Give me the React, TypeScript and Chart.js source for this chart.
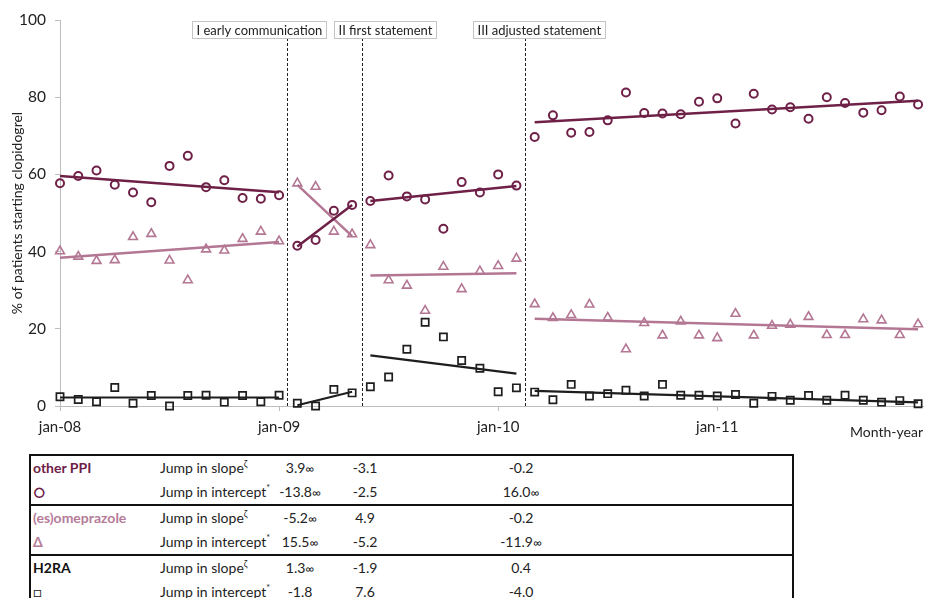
import React, { useEffect, useRef } from "react";
import { Chart, registerables } from "chart.js";

Chart.register(...registerables);

const FONT = "Lato, 'Open Sans', 'DejaVu Sans', sans-serif";

// ---- DATA ----
// month index 0 = jan-08 ... 47 = dec-11
const months = Array.from({ length: 48 }, (_, i) => i);

const xTickMonths = [0, 12, 24, 36];
const xTickLabels = ["jan-08", "jan-09", "jan-10", "jan-11"];

const otherPPI = [
  57.7, 59.6, 61.0, 57.3, 55.3, 52.8, 62.2, 64.8, 56.7, 58.5, 53.9, 53.7, 54.6,
  41.5, 43.0, 50.6, 52.1,
  53.1, 59.7, 54.3, 53.5, 45.9, 58.0, 55.3, 60.0, 57.1,
  69.7, 75.3, 70.8, 71.0, 74.0, 81.2, 75.9, 75.8, 75.6, 78.8, 79.7, 73.2, 80.9, 76.8, 77.4, 74.4, 80.0, 78.5, 76.0, 76.6, 80.2, 78.1,
];

const esomeprazole = [
  40.1, 38.7, 37.6, 37.8, 43.8, 44.6, 37.7, 32.6, 40.6, 40.3, 43.3, 45.2, 42.7,
  57.7, 56.8, 45.2, 44.5,
  41.7, 32.6, 31.2, 24.7, 36.1, 30.3, 34.9, 36.3, 38.2,
  26.4, 22.8, 23.6, 26.3, 22.9, 14.7, 21.5, 18.3, 21.9, 18.3, 17.6, 23.9, 18.3, 20.8, 21.1, 23.1, 18.4, 18.4, 22.5, 22.2, 18.4, 21.2,
];

const h2ra = [
  2.4, 1.7, 1.1, 4.8, 0.7, 2.7, 0.0, 2.7, 2.8, 1.0, 2.7, 1.1, 2.8,
  0.7, 0.0, 4.3, 3.4,
  5.0, 7.5, 14.7, 21.7, 17.9, 11.8, 9.8, 3.7, 4.7,
  3.6, 1.6, 5.6, 2.6, 3.2, 4.1, 2.6, 5.6, 2.8, 2.8, 2.6, 3.0, 0.7, 2.5, 1.5, 2.7, 1.5, 2.8, 1.5, 1.0, 1.4, 0.6,
];

// segmented regression lines (start / end month of each segment)
const segmentStart = [0, 13, 17, 26];
const segmentEnd = [12, 16, 25, 47];
const otherPPITrendStart = [59.6, 41.3, 53.1, 73.5];
const otherPPITrendEnd = [55.4, 52.1, 57.0, 79.1];
const esoTrendStart = [38.4, 57.3, 33.8, 22.6];
const esoTrendEnd = [42.5, 44.0, 34.4, 19.9];
const h2raTrendStart = [2.2, 0.2, 13.1, 3.9];
const h2raTrendEnd = [2.2, 3.7, 8.4, 0.95];

// interventions
const interventionMonths = [12.45, 16.55, 25.45];
const interventionLabels = ["I early communication", "II first statement", "III adjusted statement"];

// table
const groupNames = ["other PPI", "(es)omeprazole", "H2RA"];
const groupSymbols = ["○", "Δ", "□"];
const slopeJumpI = [3.9, -5.2, 1.3];
const slopeJumpII = [-3.1, 4.9, -1.9];
const slopeJumpIII = [-0.2, -0.2, 0.4];
const interceptJumpI = [-13.8, 15.5, -1.8];
const interceptJumpII = [-2.5, -5.2, 7.6];
const interceptJumpIII = [16.0, -11.9, -4.0];
const slopeSignificant = [
  [true, false, false],
  [true, false, false],
  [true, false, false],
];
const interceptSignificant = [
  [true, false, true],
  [true, false, true],
  [false, false, false],
];

// ---- STYLE ----
const C_PPI = "#6e2047";
const C_ESO = "#b37794";
const C_H2 = "#1e1e1e";
const AXIS = "#bdbdbd";
const TEXT = "#222222";
const groupColors = [C_PPI, "#b57c99", "#111111"];

function pts(vals: number[]) {
  return months.map((m, i) => ({ x: m, y: vals[i] }));
}

function trend(starts: number[], ends: number[]) {
  const out: any[] = [];
  segmentStart.forEach((s, i) => {
    out.push({ x: s, y: starts[i] });
    out.push({ x: segmentEnd[i], y: ends[i] });
    out.push({ x: segmentEnd[i] + 0.5, y: null });
  });
  return out;
}

const overlayPlugin = {
  id: "overlay",
  beforeDatasetsDraw(chart: any) {
    const { ctx, chartArea, scales } = chart;
    const x = scales.x;
    ctx.save();
    ctx.strokeStyle = "#222";
    ctx.lineWidth = 1;
    ctx.setLineDash([3, 2]);
    interventionMonths.forEach((m) => {
      const px = Math.round(x.getPixelForValue(m)) + 0.5;
      ctx.beginPath();
      ctx.moveTo(px, 38);
      ctx.lineTo(px, chartArea.bottom);
      ctx.stroke();
    });
    ctx.restore();
  },
  afterDraw(chart: any) {
    const { ctx, chartArea, scales } = chart;
    const x = scales.x;
    const offsets = [-28, 22.5, 14];
    ctx.save();
    ctx.font = `13px ${FONT}`;
    ctx.textBaseline = "middle";
    ctx.textAlign = "center";
    interventionMonths.forEach((m, i) => {
      const cx = x.getPixelForValue(m) + offsets[i];
      const w = ctx.measureText(interventionLabels[i]).width + 8;
      const left = Math.round(cx - w / 2) + 0.5;
      ctx.fillStyle = "#fff";
      ctx.fillRect(left, 21.5, w, 17);
      ctx.strokeStyle = "#c4c4c4";
      ctx.lineWidth = 1;
      ctx.strokeRect(left, 21.5, Math.round(w), 17);
      ctx.fillStyle = TEXT;
      ctx.fillText(interventionLabels[i], left + w / 2, 30.5);
    });
    ctx.font = `14px ${FONT}`;
    ctx.textAlign = "right";
    ctx.fillStyle = TEXT;
    ctx.fillText("Month-year", chartArea.right, 432);
    ctx.restore();
  },
};

function fmt(v: number) {
  return v.toFixed(1);
}

function Val({ v, sig, center }: { v: number; sig: boolean; center: number }) {
  return (
    <span
      style={{
        position: "absolute",
        left: center - 60,
        width: 120,
        textAlign: "center",
        top: 0,
      }}
    >
      {fmt(v)}
      {sig ? <span style={{ fontSize: 12 }}>∞</span> : null}
    </span>
  );
}

function Row({
  first,
  firstStyle,
  label,
  sup,
  vals,
  sigs,
}: {
  first: string;
  firstStyle: any;
  label: string;
  sup: string;
  vals: number[];
  sigs: boolean[];
}) {
  const centers = [269, 334, 490];
  return (
    <div style={{ position: "relative", height: 24, lineHeight: "24px" }}>
      <span style={{ position: "absolute", left: 2, top: 0, ...firstStyle }}>{first}</span>
      <span style={{ position: "absolute", left: 129, top: 0 }}>
        {label}
        <sup style={{ fontSize: 9, lineHeight: 0, verticalAlign: "6px" }}>{sup}</sup>
      </span>
      {vals.map((v, i) => (
        <Val key={i} v={v} sig={sigs[i]} center={centers[i]} />
      ))}
    </div>
  );
}

export default function App() {
  const ref = useRef<HTMLCanvasElement | null>(null);

  useEffect(() => {
    if (!ref.current) return;
    const chart = new Chart(ref.current, {
      type: "scatter",
      data: {
        datasets: [
          {
            label: "other PPI",
            data: pts(otherPPI),
            showLine: false,
            clip: false,
            pointStyle: "circle",
            pointRadius: 4,
            pointBorderWidth: 2,
            borderColor: C_PPI,
            backgroundColor: "rgba(0,0,0,0)",
          },
          {
            label: "(es)omeprazole",
            data: pts(esomeprazole),
            showLine: false,
            clip: false,
            pointStyle: "triangle",
            pointRadius: 5.1,
            pointBorderWidth: 1.6,
            borderColor: C_ESO,
            backgroundColor: "rgba(0,0,0,0)",
          },
          {
            label: "H2RA",
            data: pts(h2ra),
            showLine: false,
            clip: false,
            pointStyle: "rect",
            pointRadius: 5.1,
            pointBorderWidth: 1.7,
            borderColor: C_H2,
            backgroundColor: "rgba(0,0,0,0)",
          },
          {
            label: "other PPI trend",
            data: trend(otherPPITrendStart, otherPPITrendEnd),
            showLine: true,
            spanGaps: false,
            clip: false,
            pointRadius: 0,
            borderWidth: 2.5,
            borderColor: C_PPI,
          },
          {
            label: "(es)omeprazole trend",
            data: trend(esoTrendStart, esoTrendEnd),
            showLine: true,
            spanGaps: false,
            clip: false,
            pointRadius: 0,
            borderWidth: 2.5,
            borderColor: C_ESO,
          },
          {
            label: "H2RA trend",
            data: trend(h2raTrendStart, h2raTrendEnd),
            showLine: true,
            spanGaps: false,
            clip: false,
            pointRadius: 0,
            borderWidth: 2.2,
            borderColor: C_H2,
          },
        ] as any,
      },
      options: {
        animation: false,
        responsive: false,
        layout: { padding: { top: 20, right: 8, left: 0, bottom: 0 } },
        plugins: {
          legend: { display: false },
          tooltip: { enabled: false },
        },
        scales: {
          x: {
            type: "linear",
            min: 0,
            max: 47.27,
            afterBuildTicks: (s: any) => {
              s.ticks = xTickMonths.map((v) => ({ value: v }));
            },
            afterFit: (s: any) => {
              s.height = 39;
            },
            ticks: {
              autoSkip: false,
              maxRotation: 0,
              padding: 7,
              color: TEXT,
              font: { family: FONT, size: 15 },
              callback: (_v: any, i: number) => xTickLabels[i],
            },
            grid: {
              display: true,
              drawOnChartArea: false,
              drawTicks: true,
              tickLength: 5,
              color: AXIS,
            },
            border: { display: true, color: AXIS, width: 1 },
          },
          y: {
            min: 0,
            max: 100,
            afterFit: (s: any) => {
              s.width = 60;
            },
            ticks: {
              stepSize: 20,
              padding: 9,
              color: TEXT,
              font: { family: FONT, size: 15.5 },
            },
            grid: {
              display: true,
              drawOnChartArea: false,
              drawTicks: true,
              tickLength: 5,
              color: AXIS,
            },
            border: { display: true, color: AXIS, width: 1 },
            title: {
              display: true,
              text: "% of patients starting clopidogrel",
              color: TEXT,
              font: { family: FONT, size: 14 },
              padding: { top: 9, bottom: 0 },
            },
          },
        },
      } as any,
      plugins: [overlayPlugin],
    });
    return () => chart.destroy();
  }, []);

  const slopeRows = [slopeJumpI, slopeJumpII, slopeJumpIII];
  const interceptRows = [interceptJumpI, interceptJumpII, interceptJumpIII];

  return (
    <div
      style={{
        position: "fixed",
        left: 0,
        top: 0,
        width: 931,
        height: 598,
        overflow: "hidden",
        background: "#fff",
        fontFamily: FONT,
      }}
    >
      <canvas ref={ref} width={931} height={445} style={{ position: "absolute", left: 0, top: 0, width: 931, height: 445 }} />
      <div
        style={{
          position: "absolute",
          left: 29,
          top: 454,
          width: 765,
          boxSizing: "border-box",
          borderLeft: "2px solid #111",
          borderRight: "2px solid #111",
          fontSize: 14,
          color: TEXT,
        }}
      >
        {groupNames.map((g, gi) => (
          <div key={gi} style={{ borderTop: "2px solid #111" }}>
            <Row
              first={g}
              firstStyle={{ fontWeight: 700, color: groupColors[gi] }}
              label="Jump in slope"
              sup="ζ"
              vals={slopeRows.map((r) => r[gi])}
              sigs={slopeSignificant[gi]}
            />
            <Row
              first={groupSymbols[gi]}
              firstStyle={{ color: groupColors[gi], fontWeight: gi === 1 ? 700 : 400, fontSize: gi === 0 ? 19 : 14 }}
              label="Jump in intercept"
              sup="*"
              vals={interceptRows.map((r) => r[gi])}
              sigs={interceptSignificant[gi]}
            />
          </div>
        ))}
      </div>
    </div>
  );
}
